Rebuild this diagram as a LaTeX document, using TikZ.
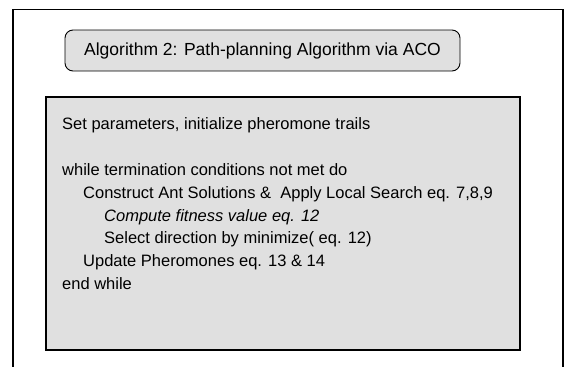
\documentclass[tikz,border=0pt]{standalone}
\usepackage{fontspec}
\setmainfont{Liberation Sans}
\usepackage{tikz}

\begin{document}
\begin{tikzpicture}[x=1pt,y=-1pt,
		txt/.style={anchor=base west, inner sep=0pt, font=\fontsize{16.5}{19}\selectfont},
		boxfill/.style={fill=black!12}]
				\useasboundingbox (0,0) rectangle (576,367);
				% outer frame, open at the bottom
				\draw[line width=1.3pt] (13,367) -- (13,9.5) -- (563,9.5) -- (563,367);

				% title
				\draw[boxfill, line width=0.9pt, rounded corners=8pt] (65,30) rectangle (460,71);
				\node[inner sep=0pt, font=\fontsize{17.5}{20}\selectfont] (title) at (262.5,51) {Algorithm 2: Path-planning Algorithm via ACO};

				% algorithm body
				\draw[boxfill, line width=1.1pt] (46,97) rectangle (520,350);
				\node[txt] (init)   at (62,129)  {Set parameters, initialize pheromone trails};
				\node[txt] (loop)   at (62,175)  {while termination conditions not met do};
				\node[txt] (ants)   at (83,198)  {Construct Ant Solutions \&\ \ Apply Local Search eq. 7,8,9};
				\node[txt] (fit)    at (104,221) {\itshape Compute fitness value eq. 12};
				\node[txt] (dir)    at (104,243) {Select direction by minimize( eq. 12)};
				\node[txt] (update) at (83,266)  {Update Pheromones eq. 13 \& 14};
				\node[txt] (stop)   at (62,289)  {end while};
\end{tikzpicture}
\end{document}
